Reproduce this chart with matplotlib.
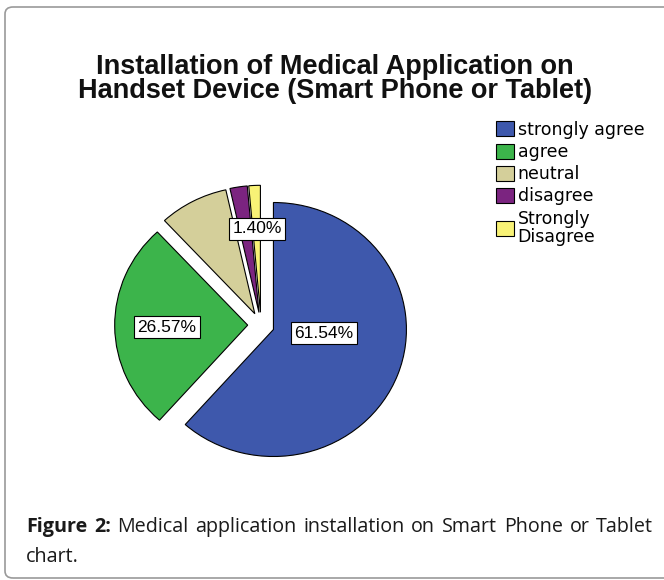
import matplotlib
matplotlib.use("Agg")
import matplotlib.pyplot as plt
from matplotlib.patches import FancyBboxPatch, Patch
import numpy as np

categories = ["strongly agree", "agree", "neutral", "disagree", "Strongly\nDisagree"]
percentages = [61.54, 26.57, 8.39, 2.10, 1.40]
colors = ["#3E58AC", "#3CB44B", "#D4CF9A", "#7B2480", "#F8F276"]
shown_labels = ["61.54%", "26.57%", "", "", "1.40%"]
label_xy = [(0.474, -0.063), (-0.707, -0.016), None, None, (-0.03, 0.756)]

title = "Installation of Medical Application on\nHandset Device (Smart Phone or Tablet)"
caption_bold = ["Figure", "2:"]
caption_words = "Medical application installation on Smart Phone or Tablet".split()
caption_line2 = "chart."

W, H = 664, 580
fig = plt.figure(figsize=(W / 100, H / 100), dpi=100)
fig.patch.set_facecolor("white")

# outer rounded frame
frame = FancyBboxPatch((5 / W, 1 - 578 / H), 800 / W, (578 - 7) / H,
                       boxstyle="round,pad=0,rounding_size=0.012",
                       transform=fig.transFigure, fill=False,
                       edgecolor="#9a9a9a", linewidth=1.2, clip_on=False)
fig.patches.append(frame)

# pie axes: center (261, 325) px, rx=133, ry=127
cx, cy = 261, 325
rx, ry = 133, 127
a = 1.3
axw, axh = 2 * a * rx, 2 * a * ry
ax = fig.add_axes([(cx - axw / 2) / W, (H - cy - axh / 2) / H, axw / W, axh / H])

wedges, _ = ax.pie(percentages, colors=colors, startangle=90, counterclock=False,
                   explode=[0.1] * len(percentages),
                   wedgeprops=dict(edgecolor="black", linewidth=0.8),
                   frame=True)
ax.set_xlim(-a, a)
ax.set_ylim(-a, a)
ax.set_aspect("auto")
ax.axis("off")

for lab, xy in zip(shown_labels, label_xy):
    if lab and xy is not None:
        ax.text(xy[0], xy[1], lab, ha="center", va="center", fontsize=12.5,
                family="Liberation Sans", color="black",
                bbox=dict(boxstyle="square,pad=0.2", facecolor="white",
                          edgecolor="black", linewidth=0.8))

fig.text(335 / W, 1 - 79 / H, title, ha="center", va="center", multialignment="center",
         fontsize=19.5, weight="bold", family="Liberation Sans", color="#111111",
         linespacing=0.88)

handles = [Patch(facecolor=c, edgecolor="black", linewidth=0.8) for c in colors]
leg = fig.legend(handles, categories, loc="upper left",
                 bbox_to_anchor=(489 / W, 1 - 114 / H),
                 frameon=False, prop=dict(family="DejaVu Sans", size=12.5),
                 handlelength=1.05, handleheight=0.95, handletextpad=0.2,
                 labelspacing=0.24, borderaxespad=0)
for t in leg.get_texts():
    t.set_linespacing(1.02)

# justified caption line
r = fig.canvas.get_renderer()
cap_size = 14.2
x0, x1 = 26, 653
y1 = 1 - 527 / H
items = [(w, "bold") for w in caption_bold] + [(w, "normal") for w in caption_words]
texts = []
for w, wt in items:
    t = fig.text(0, y1, w, ha="left", va="center", fontsize=cap_size,
                 family="Open Sans", weight=wt, color="#1a1a1a")
    texts.append(t)
widths = [t.get_window_extent(renderer=r).width for t in texts]
gap = (x1 - x0 - sum(widths)) / (len(texts) - 1)
x = x0
for t, wd in zip(texts, widths):
    t.set_x(x / W)
    x += wd + gap
fig.text(x0 / W, 1 - 557 / H, caption_line2, ha="left", va="center", fontsize=cap_size,
         family="Open Sans", color="#1a1a1a")

fig.savefig("out.png", dpi=100, facecolor="white")
